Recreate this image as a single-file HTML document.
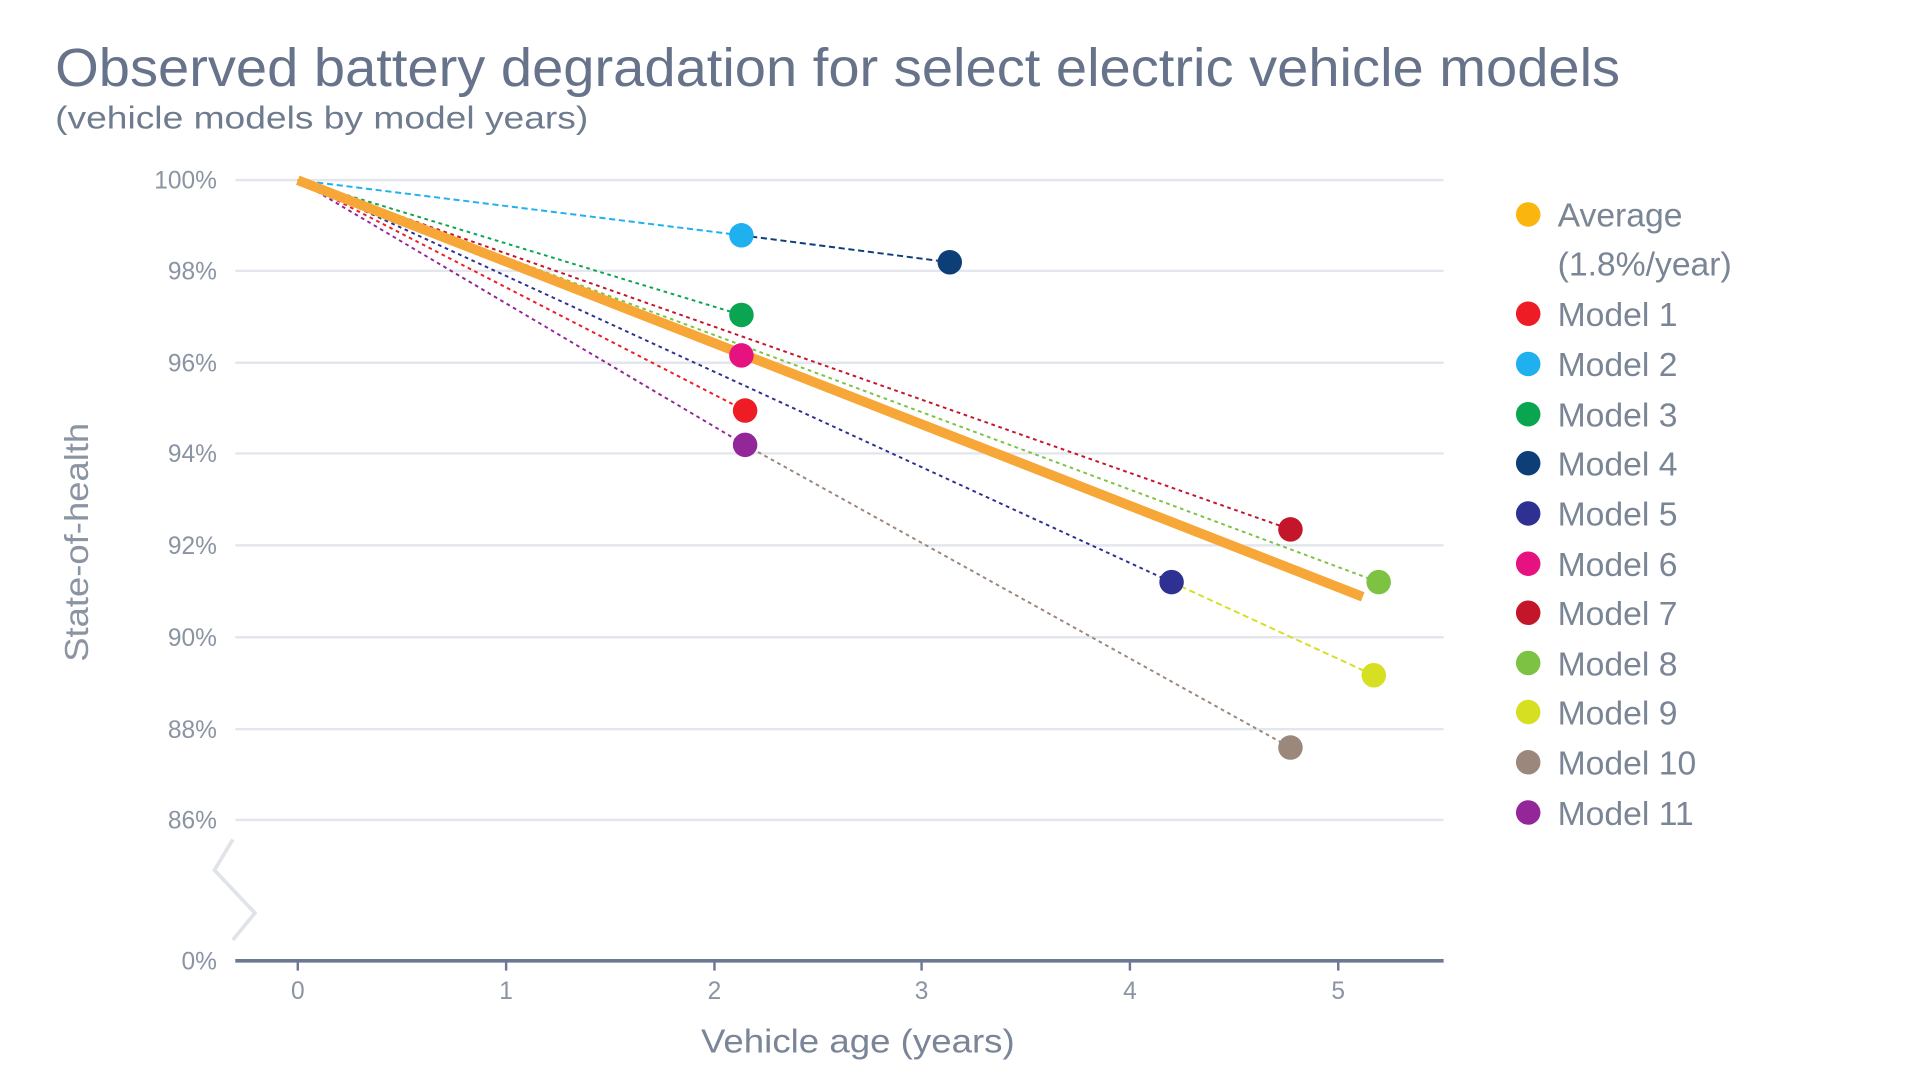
<!DOCTYPE html>
<html><head><meta charset="utf-8"><style>
html,body{margin:0;padding:0;background:#fff;width:1920px;height:1080px;overflow:hidden}
svg{display:block}
text{font-family:"Liberation Sans","DejaVu Sans",sans-serif}
</style></head><body>
<svg width="1920" height="1080" viewBox="0 0 1920 1080" xmlns="http://www.w3.org/2000/svg">
<g transform="scale(1.2255)">
<text x="45" y="70" font-size="44" fill="#66738a" textLength="1277" lengthAdjust="spacingAndGlyphs">Observed battery degradation for select electric vehicle models</text>
<text x="45" y="105" font-size="26" fill="#6f7b8e" textLength="435" lengthAdjust="spacingAndGlyphs">(vehicle models by model years)</text>

<g stroke="#e3e6ec" stroke-width="2">
<line x1="192" y1="147" x2="1178" y2="147"/>
<line x1="192" y1="221" x2="1178" y2="221"/>
<line x1="192" y1="296" x2="1178" y2="296"/>
<line x1="192" y1="370" x2="1178" y2="370"/>
<line x1="192" y1="445" x2="1178" y2="445"/>
<line x1="192" y1="520" x2="1178" y2="520"/>
<line x1="192" y1="595" x2="1178" y2="595"/>
<line x1="192" y1="669" x2="1178" y2="669"/>
</g>
<g font-size="20" fill="#8a94a3" text-anchor="end">
<text x="177" y="154">100%</text><text x="177" y="228">98%</text><text x="177" y="303">96%</text>
<text x="177" y="377">94%</text><text x="177" y="452">92%</text><text x="177" y="527">90%</text>
<text x="177" y="602">88%</text><text x="177" y="676">86%</text><text x="177" y="791">0%</text>
</g>
<polyline points="190,685 175,710 208,745 190,767" fill="none" stroke="#e0e3e8" stroke-width="3"/>
<line x1="192" y1="784" x2="1178" y2="784" stroke="#6b7a92" stroke-width="3"/>
<g stroke="#6b7a92" stroke-width="2">
<line x1="243" y1="784" x2="243" y2="792"/><line x1="413" y1="784" x2="413" y2="792"/>
<line x1="583" y1="784" x2="583" y2="792"/><line x1="752" y1="784" x2="752" y2="792"/>
<line x1="922" y1="784" x2="922" y2="792"/><line x1="1092" y1="784" x2="1092" y2="792"/>
</g>
<g font-size="20" fill="#8a94a3" text-anchor="middle">
<text x="243" y="815">0</text><text x="413" y="815">1</text><text x="583" y="815">2</text>
<text x="752" y="815">3</text><text x="922" y="815">4</text><text x="1092" y="815">5</text>
</g>
<text x="572" y="859" font-size="27" fill="#7a8598" textLength="256" lengthAdjust="spacingAndGlyphs">Vehicle age (years)</text>
<text transform="translate(72,540) rotate(-90)" font-size="27" fill="#8a94a3" textLength="195" lengthAdjust="spacingAndGlyphs">State-of-health</text>

<g fill="none" stroke-width="1.6" stroke-dasharray="3,3">
<line x1="243" y1="147" x2="605" y2="192" stroke="#1fb0ef" stroke-dasharray="5,3"/>
<line x1="605" y1="192" x2="775" y2="214" stroke="#0d3e78" stroke-dasharray="5,3"/>
<line x1="243" y1="147" x2="605" y2="257" stroke="#0aa550"/>
<line x1="243" y1="147" x2="605" y2="290" stroke="#e6127f"/>
<line x1="243" y1="147" x2="608" y2="335" stroke="#ee1c25"/>
<line x1="243" y1="147" x2="608" y2="363" stroke="#93279a"/>
<line x1="243" y1="147" x2="1053" y2="432" stroke="#c4162a"/>
<line x1="243" y1="147" x2="1125" y2="475" stroke="#7dc242"/>
<line x1="243" y1="147" x2="956" y2="475" stroke="#2e3192"/>
<line x1="956" y1="475" x2="1121" y2="551" stroke="#d7df23" stroke-dasharray="5,3"/>
<line x1="608" y1="363" x2="1053" y2="610" stroke="#9b877b"/>
</g>
<line x1="243" y1="147" x2="1112" y2="487" stroke="#f7a738" stroke-width="8"/>
<g>
<circle cx="605" cy="192" r="10" fill="#1fb0ef"/>
<circle cx="775" cy="214" r="10" fill="#0d3e78"/>
<circle cx="605" cy="257" r="10" fill="#0aa550"/>
<circle cx="605" cy="290" r="10" fill="#e6127f"/>
<circle cx="608" cy="335" r="10" fill="#ee1c25"/>
<circle cx="608" cy="363" r="10" fill="#93279a"/>
<circle cx="1053" cy="432" r="10" fill="#c4162a"/>
<circle cx="1125" cy="475" r="10" fill="#7dc242"/>
<circle cx="956" cy="475" r="10" fill="#2e3192"/>
<circle cx="1121" cy="551" r="10" fill="#d7df23"/>
<circle cx="1053" cy="610" r="10" fill="#9b877b"/>
</g>

<g font-size="27.5" fill="#7a8595">
<circle cx="1247" cy="175" r="10" fill="#fbb50f"/><text x="1271" y="185">Average</text>
<text x="1271" y="225">(1.8%/year)</text>
<circle cx="1247" cy="256" r="10" fill="#ee1c25"/><text x="1271" y="266">Model 1</text>
<circle cx="1247" cy="297" r="10" fill="#1fb0ef"/><text x="1271" y="307">Model 2</text>
<circle cx="1247" cy="338" r="10" fill="#0aa550"/><text x="1271" y="348">Model 3</text>
<circle cx="1247" cy="378" r="10" fill="#0d3e78"/><text x="1271" y="388">Model 4</text>
<circle cx="1247" cy="419" r="10" fill="#2e3192"/><text x="1271" y="429">Model 5</text>
<circle cx="1247" cy="460" r="10" fill="#e6127f"/><text x="1271" y="470">Model 6</text>
<circle cx="1247" cy="500" r="10" fill="#c4162a"/><text x="1271" y="510">Model 7</text>
<circle cx="1247" cy="541" r="10" fill="#7dc242"/><text x="1271" y="551">Model 8</text>
<circle cx="1247" cy="581" r="10" fill="#d7df23"/><text x="1271" y="591">Model 9</text>
<circle cx="1247" cy="622" r="10" fill="#9b877b"/><text x="1271" y="632">Model 10</text>
<circle cx="1247" cy="663" r="10" fill="#93279a"/><text x="1271" y="673">Model 11</text>
</g>
</g>
</svg>
</body></html>
